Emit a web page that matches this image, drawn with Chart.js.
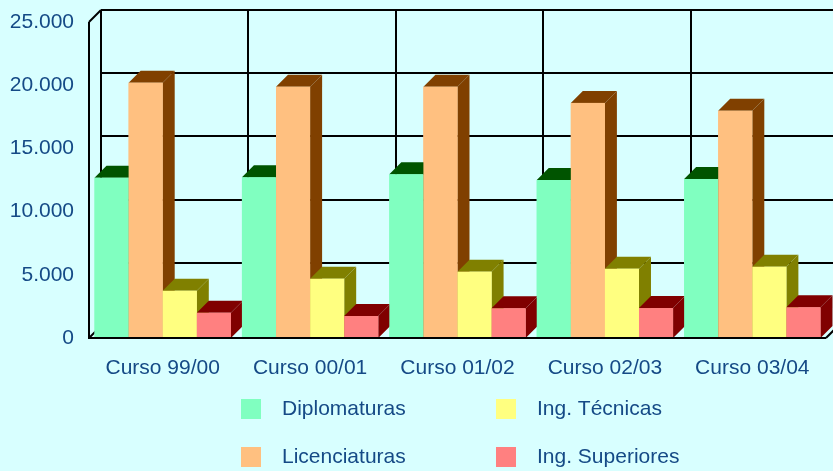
<!DOCTYPE html>
<html>
<head>
<meta charset="utf-8">
<script src="https://cdn.jsdelivr.net/npm/chart.js@4"></script>
<style>
  html, body { margin: 0; padding: 0; background: #d8ffff; }
  #wrap { width: 833px; height: 471px; position: relative; }
</style>
</head>
<body>
<div id="wrap"><canvas id="chart"></canvas></div>
<script>
const cursos = ['Curso 99/00', 'Curso 00/01', 'Curso 01/02', 'Curso 02/03', 'Curso 03/04'];
const diplomaturas = [12680, 12710, 12950, 12500, 12580];
const licenciaturas = [20200, 19880, 19880, 18600, 17980];
const ingTecnicas = [3740, 4690, 5250, 5480, 5640];
const ingSuperiores = [2000, 1740, 2350, 2370, 2430];
const yTickLabels = ['0', '5.000', '10.000', '15.000', '20.000', '25.000'];

const textColor = '#154a86';
const depth = 12;
const fronts = ['#80ffc0', '#ffc080', '#ffff80', '#ff8080'];
const darks = ['#005400', '#804000', '#808000', '#800000'];

function line(ctx, x1, y1, x2, y2) {
  ctx.beginPath();
  ctx.moveTo(x1, y1);
  ctx.lineTo(x2, y2);
  ctx.stroke();
}

const threeD = {
  id: 'threeD',
  beforeDatasetsDraw(chart) {
    const { ctx, chartArea: a, scales: { x, y } } = chart;
    ctx.save();
    ctx.strokeStyle = '#000';
    ctx.lineWidth = 2;
    // back wall
    y.ticks.forEach(t => {
      if (t.value === 0) return;
      const py = Math.round(y.getPixelForValue(t.value)) - depth;
      line(ctx, a.left + depth, py, chart.width, py);
    });
    const catW = (x.right - x.left) / cursos.length;
    for (let i = 0; i <= cursos.length; i++) {
      const px = Math.round(x.left + i * catW) + depth;
      line(ctx, px, a.top - depth, px, a.bottom - depth);
    }
    // left wall
    line(ctx, a.left, a.top, a.left + depth, a.top - depth);
    line(ctx, a.left, a.bottom, a.left + depth, a.bottom - depth);
    ctx.restore();
  },
  afterDatasetsDraw(chart) {
    const { ctx, chartArea: a } = chart;
    ctx.save();
    cursos.forEach((c, i) => {
      chart.data.datasets.forEach((ds, j) => {
        const el = chart.getDatasetMeta(j).data[i];
        const p = el.getProps(['x', 'y', 'base', 'width'], true);
        const x0 = p.x - p.width / 2, x1 = p.x + p.width / 2;
        ctx.fillStyle = darks[j];
        // side
        ctx.beginPath();
        ctx.moveTo(x1, p.y);
        ctx.lineTo(x1 + depth, p.y - depth);
        ctx.lineTo(x1 + depth, p.base - depth);
        ctx.lineTo(x1, p.base);
        ctx.closePath();
        ctx.fill();
        // top
        ctx.beginPath();
        ctx.moveTo(x0, p.y);
        ctx.lineTo(x0 + depth, p.y - depth);
        ctx.lineTo(x1 + depth, p.y - depth);
        ctx.lineTo(x1, p.y);
        ctx.closePath();
        ctx.fill();
        // front
        ctx.fillStyle = fronts[j];
        ctx.fillRect(x0, p.y, p.width, p.base - p.y);
      });
    });
    // front frame
    ctx.strokeStyle = '#000';
    ctx.lineWidth = 2;
    line(ctx, a.left, a.top, a.left, a.bottom + 1);
    line(ctx, a.left, a.bottom, a.right, a.bottom);
    line(ctx, a.right, a.bottom, a.right + depth, a.bottom - depth);
    ctx.restore();
  },
  afterDraw(chart) {
    const ctx = chart.ctx;
    const spots = [[241, 399], [241, 447], [496, 399], [496, 447]];
    ctx.save();
    ctx.font = '21px "Liberation Sans", Arial, sans-serif';
    ctx.textBaseline = 'middle';
    chart.data.datasets.forEach((ds, j) => {
      const [sx, sy] = spots[j];
      ctx.fillStyle = fronts[j];
      ctx.fillRect(sx, sy, 20, 20);
      ctx.fillStyle = textColor;
      ctx.fillText(ds.label, sx + 41, sy + 10);
    });
    ctx.restore();
  }
};

new Chart(document.getElementById('chart'), {
  type: 'bar',
  data: {
    labels: cursos,
    datasets: [
      { label: 'Diplomaturas', data: diplomaturas, backgroundColor: fronts[0] },
      { label: 'Licenciaturas', data: licenciaturas, backgroundColor: fronts[1] },
      { label: 'Ing. Técnicas', data: ingTecnicas, backgroundColor: fronts[2] },
      { label: 'Ing. Superiores', data: ingSuperiores, backgroundColor: fronts[3] }
    ]
  },
  options: {
    responsive: true,
    maintainAspectRatio: false,
    animation: false,
    layout: { padding: { top: 22, right: 7, left: 0, bottom: 0 } },
    datasets: { bar: { categoryPercentage: 0.925, barPercentage: 1 } },
    plugins: { legend: { display: false }, tooltip: { enabled: false } },
    scales: {
      x: {
        grid: { display: false, drawTicks: false },
        border: { display: false },
        ticks: { color: textColor, font: { family: '"Liberation Sans", Arial', size: 21 }, padding: 18, maxRotation: 0 },
        afterFit: s => { s.height = 133; s.paddingLeft = 0; s.paddingRight = 0; }
      },
      y: {
        min: 0,
        max: 25000,
        grid: { display: false, drawTicks: false },
        border: { display: false },
        ticks: {
          stepSize: 5000,
          color: textColor,
          font: { family: '"Liberation Sans", Arial', size: 21 },
          padding: 15,
          callback: (v, i) => yTickLabels[i]
        },
        afterFit: s => { s.width = 89; s.paddingTop = 0; s.paddingBottom = 0; }
      }
    }
  },
  plugins: [threeD]
});
</script>
</body>
</html>
